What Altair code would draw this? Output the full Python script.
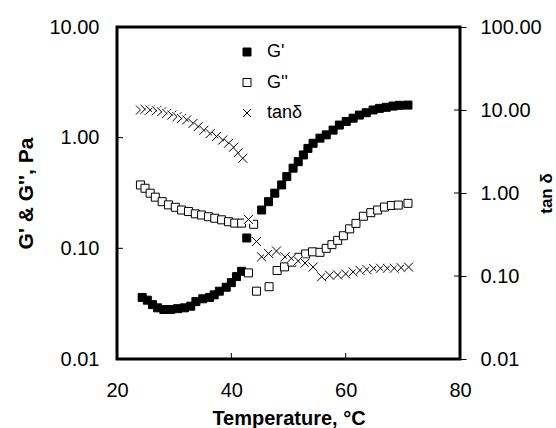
import altair as alt
import pandas as pd

# ---- data ----
T_gp = [24.4, 25.3, 26.2, 27.1, 28.2, 29.4, 30.6, 31.8, 32.9, 33.8, 35.0, 36.2, 37.0, 37.9,
        39.1, 40.0, 40.9, 41.8, 42.7, 45.3, 46.5, 47.6, 48.8, 49.7, 50.8, 51.7, 52.6, 53.4,
        54.3, 55.5, 56.6, 57.8, 58.9, 60.1, 61.3, 62.4, 63.6, 64.8, 65.9, 67.1, 68.3, 69.4, 70.9]
gp = [0.036, 0.034, 0.031, 0.029, 0.028, 0.028, 0.0285, 0.029, 0.030, 0.033, 0.035, 0.036, 0.038,
      0.041, 0.0445, 0.049, 0.0555, 0.062, 0.124, 0.222, 0.264, 0.315, 0.374, 0.445, 0.53, 0.607,
      0.698, 0.80, 0.89, 0.99, 1.06, 1.17, 1.30, 1.40, 1.50, 1.60, 1.68, 1.78, 1.84, 1.88, 1.93,
      1.96, 1.97]

T_gpp = [24.1, 24.9, 25.8, 26.7, 27.9, 29.0, 30.2, 31.3, 32.5, 33.7, 34.8, 36.0, 37.1, 38.3,
         39.5, 40.6, 41.8, 43.0, 43.9, 44.4, 46.6, 48.0, 49.3, 50.6, 51.8, 53.0, 54.2, 55.5,
         56.6, 57.6, 58.6, 59.6, 60.7, 61.8, 63.1, 64.4, 65.6, 66.8, 68.0, 69.2, 70.9]
gpp = [0.374, 0.349, 0.315, 0.29, 0.264, 0.247, 0.235, 0.222, 0.215, 0.205, 0.20, 0.193, 0.187,
       0.181, 0.174, 0.169, 0.169, 0.060, 0.165, 0.041, 0.045, 0.063, 0.068, 0.075, 0.083, 0.089,
       0.093, 0.092, 0.100, 0.108, 0.118, 0.130, 0.150, 0.168, 0.195, 0.21, 0.222, 0.236, 0.244,
       0.246, 0.255]

T_tan = [24.1, 24.9, 25.8, 26.9, 27.8, 28.7, 29.6, 30.5, 31.3, 32.2, 33.3, 34.2, 35.2, 36.3,
         37.4, 38.5, 39.5, 40.4, 41.2, 42.0, 43.0, 44.4, 45.3, 46.5, 47.9, 49.4, 50.5, 51.7,
         52.9, 54.3, 55.8, 57.2, 58.6, 60.0, 61.3, 62.5, 63.7, 64.9, 66.1, 67.3, 68.5, 69.7, 71.0]
tan = [10.0, 10.2, 10.0, 9.8, 9.5, 9.1, 8.7, 8.3, 7.9, 7.6, 6.9, 6.3, 5.7, 5.2, 4.8, 4.35, 3.97,
       3.56, 3.06, 2.62, 0.48, 0.26, 0.17, 0.187, 0.20, 0.17, 0.163, 0.152, 0.143, 0.128, 0.098,
       0.102, 0.103, 0.106, 0.112, 0.117, 0.120, 0.123, 0.124, 0.124, 0.124, 0.126, 0.128]

series_names = ["G'", "G''", "tan\u03b4"]
left_ticks = [0.1, 1.0]
right_ticks = [0.1, 1.0, 10.0]
x_ticks = [40, 60]

# ---- tables ----
left_df = pd.DataFrame({
    "T": T_gp + T_gpp,
    "v": gp + gpp,
    "series": [series_names[0]] * len(gp) + [series_names[1]] * len(gpp),
})
left_df["ord"] = range(len(left_df))

rows = []
for i, (t, v) in enumerate(zip(T_tan, tan)):
    rows.append({"T": t, "v": v, "series": "bg", "ord": 2 * i})
    rows.append({"T": t, "v": v, "series": series_names[2], "ord": 2 * i + 1})
tan_df = pd.DataFrame(rows)

legend_df = pd.DataFrame({"series": series_names})
xtick_df = pd.DataFrame({"T": x_ticks})

XPATH = "M-1,-1L1,1M-1,1L1,-1"
FONT = "Liberation Sans"

all_keys = series_names + ["bg"]
xscale = alt.Scale(domain=[20, 80], nice=False, zero=False)
lscale = alt.Scale(type="log", domain=[0.01, 10], nice=False)
rscale = alt.Scale(type="log", domain=[0.01, 100], nice=False)
shape_scale = alt.Scale(domain=all_keys, range=["square", "square", XPATH, "square"])
fill_scale = alt.Scale(domain=all_keys, range=["black", "white", "white", "white"])
stroke_scale = alt.Scale(domain=all_keys, range=["black", "black", "black", "transparent"])
leg_y = alt.Scale(type="point", domain=series_names, range=[25, 86], padding=0)

AX = dict(labelFont=FONT, titleFont=FONT, labelColor="black", titleColor="black",
          grid=False, domain=False)

# one shared x axis definition, used identically by every layer with an x field
x_axis = alt.Axis(values=[20, 40, 60, 80], title="Temperature, \u00b0C", labelFontSize=20,
                  labelPadding=21, ticks=False, labelAlign="center", labelFlush=False,
                  titleFontSize=20, titleFontWeight="bold", titlePadding=8, **AX)
x_enc = alt.X("T:Q", scale=xscale, axis=x_axis)

pts_left = alt.Chart(left_df).mark_point(size=64, filled=True, strokeWidth=1,
                                         opacity=1, fillOpacity=1).encode(
    x=x_enc,
    y=alt.Y("v:Q", scale=lscale, axis=alt.Axis(
        values=[0.01, 0.1, 1, 10], format=".2f", labelFontSize=20, labelPadding=18,
        ticks=False, title="G' & G'', Pa", titleFontSize=21, titleFontWeight="bold",
        titlePadding=12, **AX)),
    shape=alt.Shape("series:N", scale=shape_scale, legend=None),
    fill=alt.Fill("series:N", scale=fill_scale, legend=None),
    stroke=alt.Stroke("series:N", scale=stroke_scale, legend=None),
    order=alt.Order("ord:Q"),
)

rules_left = alt.Chart(pd.DataFrame({"v": left_ticks})).mark_rule(
    color="black", strokeWidth=1).encode(
    y=alt.Y("v:Q", scale=lscale, axis=None),
    x=alt.value(0), x2=alt.value(6))

rules_bottom = alt.Chart(xtick_df).mark_rule(
    color="black", strokeWidth=1, yOffset=-6).encode(
    x=x_enc,
    y=alt.value("height"), y2=alt.value("height"))

pts_tan = alt.Chart(tan_df).mark_point(size=81, filled=True, strokeWidth=1,
                                       opacity=1, fillOpacity=1).encode(
    x=x_enc,
    y=alt.Y("v:Q", scale=rscale, axis=alt.Axis(
        orient="right", values=[0.01, 0.1, 1, 10, 100], format=".2f", labelFontSize=20,
        labelPadding=14, ticks=True, tickSize=6, tickColor="black", tickWidth=1,
        title="tan \u03b4", titleFontSize=17, titleFontWeight="bold", titlePadding=14,
        titleAngle=270, **AX)),
    shape=alt.Shape("series:N", scale=shape_scale, legend=None),
    fill=alt.Fill("series:N", scale=fill_scale, legend=None),
    stroke=alt.Stroke("series:N", scale=stroke_scale, legend=None),
    order=alt.Order("ord:Q"),
)

rules_right = alt.Chart(pd.DataFrame({"v": right_ticks})).mark_rule(
    color="black", strokeWidth=1, xOffset=-6).encode(
    y=alt.Y("v:Q", scale=rscale, axis=None),
    x=alt.value("width"), x2=alt.value("width"))

# legend (symbols + labels)
leg_sym = alt.Chart(legend_df).mark_point(size=64, filled=True, strokeWidth=1,
                                          opacity=1, fillOpacity=1).encode(
    x=alt.value(130),
    y=alt.Y("series:N", scale=leg_y, axis=None),
    shape=alt.Shape("series:N", scale=shape_scale, legend=None),
    fill=alt.Fill("series:N", scale=fill_scale, legend=None),
    stroke=alt.Stroke("series:N", scale=stroke_scale, legend=None),
)
leg_txt = alt.Chart(legend_df).mark_text(align="left", baseline="middle", fontSize=18,
                                         font=FONT, color="black").encode(
    x=alt.value(150),
    y=alt.Y("series:N", scale=leg_y, axis=None),
    text="series:N",
)

chart = alt.layer(pts_left, rules_left, rules_bottom, pts_tan, rules_right,
                  leg_sym, leg_txt).resolve_scale(
    y="independent"
).properties(
    width=556, height=428,
    autosize=alt.AutoSizeParams(type="fit", contains="padding"),
    padding={"left": 15, "top": 17, "right": 1, "bottom": 0},
    background="white",
).configure_view(
    stroke="black", strokeWidth=3
)

chart.save("out.html", embed_options={"renderer": "svg", "actions": False})
